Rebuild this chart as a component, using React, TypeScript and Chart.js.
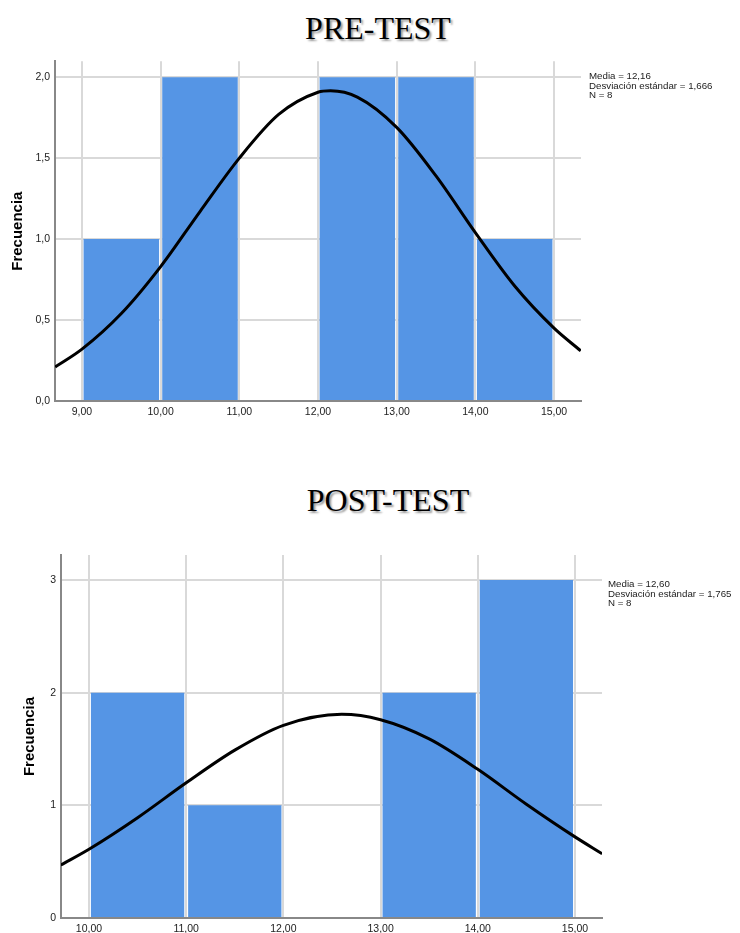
import React, { useEffect, useRef } from 'react';
import { Chart, registerables } from 'chart.js';

Chart.register(...registerables);

// ---------- DATA ----------
const PRE_TITLE = 'PRE-TEST';
const PRE_BIN_CENTERS = [9.5, 10.5, 11.5, 12.5, 13.5, 14.5];
const PRE_COUNTS = [1, 2, 0, 2, 2, 1];
const PRE_CURVE_X = [8.66, 9, 9.5, 10, 10.5, 11, 11.5, 12, 12.16, 12.5, 13, 13.5, 14, 14.5, 15, 15.34];
const PRE_CURVE_Y = [0.21, 0.32, 0.54, 0.83, 1.17, 1.5, 1.77, 1.907, 1.916, 1.877, 1.69, 1.39, 1.04, 0.71, 0.45, 0.31];
const PRE_X_TICKS = [9, 10, 11, 12, 13, 14, 15];
const PRE_X_LABELS = ['9,00', '10,00', '11,00', '12,00', '13,00', '14,00', '15,00'];
const PRE_Y_TICKS = [0, 0.5, 1, 1.5, 2];
const PRE_Y_LABELS = ['0,0', '0,5', '1,0', '1,5', '2,0'];
const PRE_STATS = ['Media = 12,16', 'Desviación estándar = 1,666', 'N = 8'];

const POST_TITLE = 'POST-TEST';
const POST_BIN_CENTERS = [10.5, 11.5, 12.5, 13.5, 14.5];
const POST_COUNTS = [2, 1, 0, 2, 3];
const POST_CURVE_X = [9.71, 10, 10.5, 11, 11.5, 12, 12.6, 13, 13.5, 14, 14.5, 15, 15.28];
const POST_CURVE_Y = [0.47, 0.61, 0.89, 1.2, 1.49, 1.71, 1.808, 1.76, 1.59, 1.32, 1.01, 0.72, 0.57];
const POST_X_TICKS = [10, 11, 12, 13, 14, 15];
const POST_X_LABELS = ['10,00', '11,00', '12,00', '13,00', '14,00', '15,00'];
const POST_Y_TICKS = [0, 1, 2, 3];
const POST_Y_LABELS = ['0', '1', '2', '3'];
const POST_STATS = ['Media = 12,60', 'Desviación estándar = 1,765', 'N = 8'];

const Y_TITLE = 'Frecuencia';

// ---------- STYLE ----------
const BAR_COLOR = '#5595e5';
const GRID_COLOR = '#d9d9d9';
const AXIS_COLOR = '#888888';
const TICK_COLOR = '#222222';
const W = 740;

type HistProps = {
  top: number;
  height: number;
  binCenters: number[];
  counts: number[];
  curveX: number[];
  curveY: number[];
  xTicks: number[];
  xLabels: string[];
  yTicks: number[];
  yLabels: string[];
  xMin: number;
  xMax: number;
  yMax: number;
  axisLeft: number;
  areaRight: number;
  areaTop: number;
  areaBottom: number;
  titlePad: number;
};

function Histogram(p: HistProps) {
  const ref = useRef<HTMLCanvasElement>(null);
  useEffect(() => {
    const chart = new Chart(ref.current as HTMLCanvasElement, {
      type: 'bar',
      data: {
        datasets: [
          {
            type: 'line',
            data: p.curveX.map((x, i) => ({ x, y: p.curveY[i] })),
            borderColor: '#000000',
            borderWidth: 3,
            pointRadius: 0,
            cubicInterpolationMode: 'monotone',
            fill: false,
            order: 0,
          } as any,
          {
            type: 'bar',
            data: p.binCenters.map((x, i) => ({ x, y: p.counts[i] })),
            backgroundColor: BAR_COLOR,
            borderWidth: 0,
            barPercentage: 0.96,
            categoryPercentage: 1,
            order: 1,
          } as any,
        ],
      },
      options: {
        animation: false,
        responsive: false,
        maintainAspectRatio: false,
        devicePixelRatio: 1,
        layout: { padding: { left: 0, top: p.areaTop, right: W - p.areaRight, bottom: 0 } },
        plugins: {
          legend: { display: false },
          tooltip: { enabled: false },
          title: { display: false },
        },
        scales: {
          x: {
            type: 'linear',
            min: p.xMin,
            max: p.xMax,
            offset: false,
            grid: { color: GRID_COLOR, lineWidth: 2, drawTicks: false, offset: false },
            border: { display: true, color: AXIS_COLOR, width: 2 },
            ticks: {
              autoSkip: false,
              maxRotation: 0,
              includeBounds: false,
              padding: 5,
              color: TICK_COLOR,
              font: { family: 'Liberation Sans', size: 10.5 },
              callback: (_v: any, i: number) => p.xLabels[i],
            },
            afterBuildTicks: (s: any) => {
              s.ticks = p.xTicks.map((v) => ({ value: v }));
            },
            afterFit: (s: any) => {
              s.height = p.height - p.areaBottom;
            },
          } as any,
          y: {
            type: 'linear',
            min: 0,
            max: p.yMax,
            grid: { color: GRID_COLOR, lineWidth: 2, drawTicks: false },
            border: { display: true, color: AXIS_COLOR, width: 2 },
            ticks: {
              autoSkip: false,
              includeBounds: false,
              padding: 5,
              color: TICK_COLOR,
              font: { family: 'Liberation Sans', size: 10.5 },
              callback: (_v: any, i: number) => p.yLabels[i],
            },
            afterBuildTicks: (s: any) => {
              s.ticks = p.yTicks.map((v) => ({ value: v }));
            },
            afterFit: (s: any) => {
              s.width = p.axisLeft;
            },
            title: {
              display: true,
              text: Y_TITLE,
              color: '#000000',
              font: { family: 'Liberation Sans', size: 15, weight: 'bold' },
              padding: { top: p.titlePad, bottom: 0 },
            },
          } as any,
        },
      },
    });
    return () => chart.destroy();
  }, []);
  return (
    <canvas
      ref={ref}
      width={W}
      height={p.height}
      style={{ position: 'absolute', left: 0, top: p.top, width: W, height: p.height }}
    />
  );
}

const titleStyle = (cx: number, top: number): React.CSSProperties => ({
  position: 'absolute',
  left: cx,
  top,
  transform: 'translateX(-50%)',
  fontFamily: '"Liberation Serif", "Times New Roman", serif',
  fontSize: 32,
  lineHeight: '32px',
  whiteSpace: 'nowrap',
  color: '#000',
  textShadow: '2px 2px 2px rgba(0,0,0,0.4)',
});

const statsStyle = (left: number, top: number): React.CSSProperties => ({
  position: 'absolute',
  left,
  top,
  fontFamily: '"Liberation Sans", Arial, sans-serif',
  fontSize: 9,
  lineHeight: '9.5px',
  whiteSpace: 'nowrap',
  color: '#222',
  transform: 'scaleX(1.08)',
  transformOrigin: 'left top',
});

export default function App() {
  return (
    <div
      style={{
        position: 'fixed',
        left: 0,
        top: 0,
        width: W,
        height: 933,
        background: '#ffffff',
        overflow: 'hidden',
      }}
    >
      <div style={titleStyle(378, 12)}>{PRE_TITLE}</div>
      <Histogram
        top={50}
        height={375}
        binCenters={PRE_BIN_CENTERS}
        counts={PRE_COUNTS}
        curveX={PRE_CURVE_X}
        curveY={PRE_CURVE_Y}
        xTicks={PRE_X_TICKS}
        xLabels={PRE_X_LABELS}
        yTicks={PRE_Y_TICKS}
        yLabels={PRE_Y_LABELS}
        xMin={8.657}
        xMax={15.343}
        yMax={2.098}
        axisLeft={55}
        areaRight={581}
        areaTop={7}
        areaBottom={351}
        titlePad={8.5}
      />
      <div style={statsStyle(589, 72)}>
        {PRE_STATS.map((s) => (
          <div key={s}>{s}</div>
        ))}
      </div>

      <div style={titleStyle(388, 484)}>{POST_TITLE}</div>
      <Histogram
        top={540}
        height={393}
        binCenters={POST_BIN_CENTERS}
        counts={POST_COUNTS}
        curveX={POST_CURVE_X}
        curveY={POST_CURVE_Y}
        xTicks={POST_X_TICKS}
        xLabels={POST_X_LABELS}
        yTicks={POST_Y_TICKS}
        yLabels={POST_Y_LABELS}
        xMin={9.712}
        xMax={15.278}
        yMax={3.222}
        axisLeft={61}
        areaRight={602}
        areaTop={15}
        areaBottom={378}
        titlePad={21}
      />
      <div style={statsStyle(608, 580)}>
        {POST_STATS.map((s) => (
          <div key={s}>{s}</div>
        ))}
      </div>
    </div>
  );
}
